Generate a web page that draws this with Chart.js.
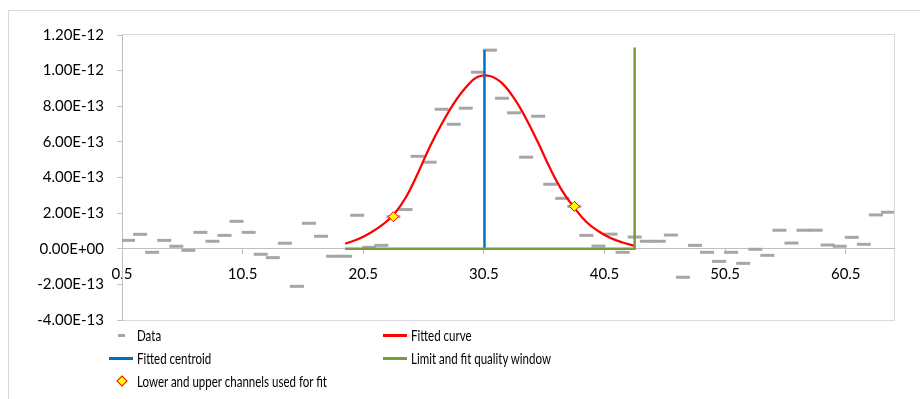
<!DOCTYPE html>
<html>
<head>
<meta charset="utf-8">
<script src="https://cdn.jsdelivr.net/npm/chart.js@4.4.1/dist/chart.umd.min.js"></script>
<style>
  body { margin: 0; background: #fff; }
  #wrap { position: relative; width: 920px; height: 399px; overflow: hidden; font-family: Lato, sans-serif; }
  #frame { position: absolute; left: 8px; top: 10px; width: 1000px; height: 500px;
           border-left: 1px solid #d9d9d9; border-top: 1px solid #d9d9d9; }
  canvas { position: absolute; left: 0; top: 0; }
  .item { position: absolute; width: 270px; height: 20px; }
  .mark { position: absolute; }
  .text { position: absolute; left: 28px; top: 0; line-height: 20px; font-size: 16px; color: #000;
          white-space: nowrap; transform: scaleX(0.72); transform-origin: left center; }
</style>
</head>
<body>
<div id="wrap">
  <div id="frame"></div>
  <canvas id="chart" width="920" height="399"></canvas>
  <div id="legend"></div>
</div>
<script>
// measured data, one value per channel (1..64)
const dataValues = [
  4.7e-14, 8.1e-14, -2.0e-14, 4.7e-14, 1.4e-14, -9e-15, 9.2e-14, 4.2e-14, 7.5e-14, 1.54e-13,
  9.2e-14, -3.1e-14, -5.0e-14, 3.1e-14, -2.11e-13, 1.43e-13, 7.0e-14, -4.2e-14, -4.2e-14, 1.88e-13,
  8e-15, 1.9e-14, 1.8e-13, 2.2e-13, 5.19e-13, 4.86e-13, 7.83e-13, 6.99e-13, 7.89e-13, 9.91e-13,
  1.115e-12, 8.45e-13, 7.63e-13, 5.14e-13, 7.44e-13, 3.62e-13, 2.83e-13, 2.38e-13, 7.5e-14, 1.5e-14,
  8.2e-14, -2.0e-14, 6.6e-14, 4.2e-14, 4.2e-14, 7.7e-14, -1.6e-13, 1.9e-14, -2.0e-14, -7.1e-14,
  -2.0e-14, -8.2e-14, -3e-15, -3.7e-14, 1.04e-13, 3.2e-14, 1.04e-13, 1.04e-13, 2.1e-14, 1.4e-14,
  6.4e-14, 2.5e-14, 1.9e-13, 2.05e-13
];
const channels = dataValues.map((v, i) => i + 1);

// fitted curve, channels 19..43
const curveChannels = [19, 20, 21, 22, 23, 24, 25, 26, 27, 28, 29, 30, 31,
                       32, 33, 34, 35, 36, 37, 38, 39, 40, 41, 42, 43];
const curveValues = [2.8e-14, 5.2e-14, 8.6e-14, 1.3e-13, 1.9e-13, 2.85e-13, 4.2e-13, 5.7e-13,
                     7.0e-13, 8.15e-13, 9.05e-13, 9.65e-13, 9.7e-13, 9.3e-13, 8.45e-13, 7.3e-13,
                     5.95e-13, 4.5e-13, 3.25e-13, 2.3e-13, 1.5e-13, 9.8e-14, 6.0e-14, 3.5e-14, 1.6e-14];

const centroidX = [30.55, 30.55];
const centroidY = [0, 1.115e-12];

const windowX = [19, 43, 43];
const windowY = [0, 0, 1.13e-12];

const fitChannels = [23, 38];
const fitValues = [1.8e-13, 2.38e-13];

const xTicks = [0.5, 10.5, 20.5, 30.5, 40.5, 50.5, 60.5];
const yTicks = [-4e-13, -2e-13, 0, 2e-13, 4e-13, 6e-13, 8e-13, 1e-12, 1.2e-12];

function pts(xs, ys) {
  return xs.map((x, i) => ({ x: x, y: ys[i] }));
}

function sci(v) {
  return Number(v).toExponential(2).replace(/e([+-])(\d)$/, 'e$10$2').toUpperCase();
}

const tickFont = { family: 'Lato', size: 15 };

const plotBorder = {
  id: 'plotBorder',
  beforeDraw(chart) {
    const a = chart.chartArea, ctx = chart.ctx;
    ctx.save();
    ctx.strokeStyle = '#d9d9d9';
    ctx.lineWidth = 1;
    ctx.strokeRect(Math.round(a.left) + 0.5, Math.round(a.top) - 0.5,
                   Math.round(a.right - a.left), Math.round(a.bottom - a.top) + 1);
    ctx.restore();
  }
};

const chart = new Chart(document.getElementById('chart'), {
  type: 'scatter',
  data: {
    datasets: [
      {
        label: 'Data',
        data: pts(channels, dataValues),
        pointStyle: 'line',
        pointRadius: 7,
        borderWidth: 3,
        borderColor: '#a6a6a6',
        backgroundColor: '#a6a6a6',
        clip: 0,
        order: 5,
        legendMark: 'dash'
      },
      {
        label: 'Fitted curve',
        data: pts(curveChannels, curveValues),
        showLine: true,
        tension: 0.4,
        pointRadius: 0,
        borderColor: '#ff0000',
        borderWidth: 2.25,
        order: 4,
        legendMark: 'line'
      },
      {
        label: 'Fitted centroid',
        data: pts(centroidX, centroidY),
        showLine: true,
        pointRadius: 0,
        borderColor: '#0070c0',
        borderWidth: 2.5,
        order: 3,
        legendMark: 'line'
      },
      {
        label: 'Limit and fit quality window',
        data: pts(windowX, windowY),
        showLine: true,
        pointRadius: 0,
        borderColor: '#7a9a3e',
        borderWidth: 2.5,
        order: 2,
        legendMark: 'line'
      },
      {
        label: 'Lower and upper channels used for fit',
        data: pts(fitChannels, fitValues),
        pointStyle: 'rectRot',
        pointRadius: 5,
        borderWidth: 1,
        borderColor: '#ff0000',
        backgroundColor: '#ffff00',
        order: 1,
        legendMark: 'diamond'
      }
    ]
  },
  options: {
    responsive: false,
    animation: false,
    layout: { padding: { top: 35, right: 26, bottom: 79, left: 0 } },
    plugins: { legend: { display: false }, tooltip: { enabled: false } },
    scales: {
      x: {
        type: 'linear',
        position: { y: 0 },
        min: 0.5,
        max: 64.5,
        afterBuildTicks: s => { s.ticks = xTicks.map(v => ({ value: v })); },
        ticks: { font: tickFont, color: '#000', padding: 11, maxRotation: 0, callback: v => String(v) },
        grid: { drawOnChartArea: false, tickLength: 5, color: '#bfbfbf' },
        border: { color: '#bfbfbf' }
      },
      y: {
        min: -4e-13,
        max: 1.2e-12,
        afterBuildTicks: s => { s.ticks = yTicks.map(v => ({ value: v })); },
        afterFit: s => { s.width = 122; },
        ticks: { font: tickFont, color: '#000', padding: 13, callback: v => sci(v) },
        grid: { drawOnChartArea: false, tickLength: 5, color: '#bfbfbf' },
        border: { color: '#bfbfbf' }
      }
    }
  },
  plugins: [plotBorder]
});

// two column legend like the original
function buildLegend() {
  const box = document.getElementById('legend');
  const colX = [109, 383];
  const rowY = [335, 358, 381];
  chart.data.datasets.forEach((ds, i) => {
    const item = document.createElement('div');
    item.className = 'item';
    item.style.left = colX[i % 2] + 'px';
    item.style.top = (rowY[Math.floor(i / 2)] - 10) + 'px';
    const mark = document.createElement('div');
    mark.className = 'mark';
    if (ds.legendMark === 'line') {
      Object.assign(mark.style, { left: '0px', top: '9px', width: '24px', height: '2.5px', background: ds.borderColor });
    } else if (ds.legendMark === 'dash') {
      Object.assign(mark.style, { left: '9px', top: '8.5px', width: '7px', height: '3px', background: ds.borderColor });
    } else {
      Object.assign(mark.style, { left: '9px', top: '6px', width: '6px', height: '6px', background: ds.backgroundColor,
        border: '1px solid ' + ds.borderColor, transform: 'rotate(45deg)' });
    }
    const text = document.createElement('div');
    text.className = 'text';
    text.textContent = ds.label;
    item.appendChild(mark);
    item.appendChild(text);
    box.appendChild(item);
  });
}
buildLegend();
</script>
</body>
</html>
